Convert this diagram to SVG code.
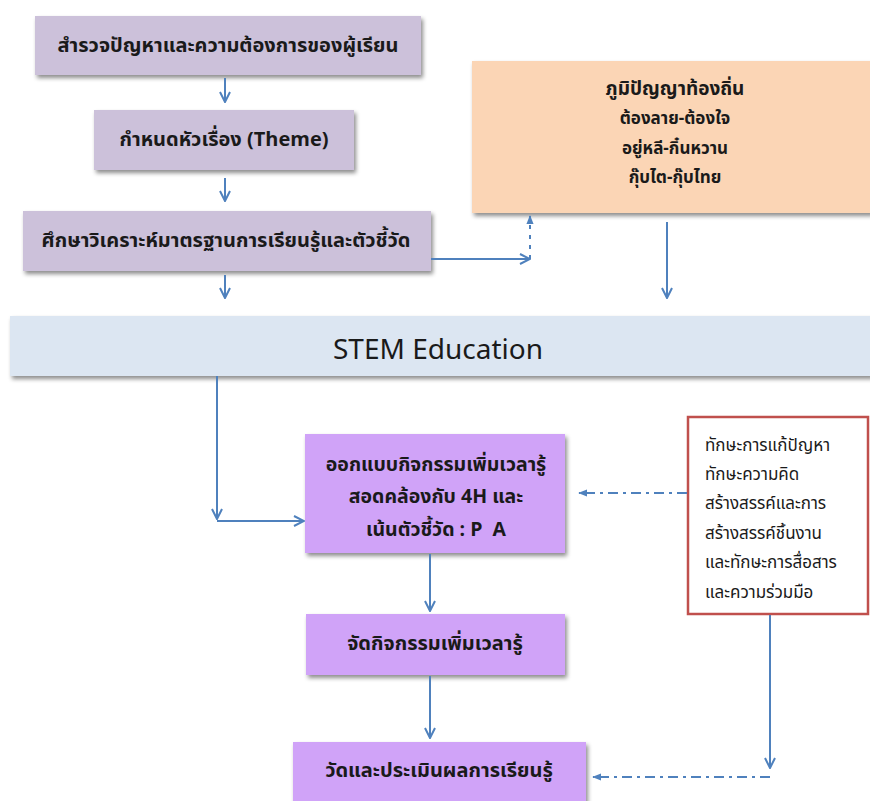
<svg xmlns="http://www.w3.org/2000/svg" width="870" height="801" viewBox="0 0 870 801">
<defs>
<filter id="sh" x="-5%" y="-10%" width="115%" height="130%">
<feGaussianBlur in="SourceAlpha" stdDeviation="2"/>
<feOffset dx="2" dy="3" result="b"/>
<feFlood flood-color="#000" flood-opacity="0.45"/>
<feComposite in2="b" operator="in"/>
<feMerge><feMergeNode/><feMergeNode in="SourceGraphic"/></feMerge>
</filter>
<marker id="open" viewBox="0 0 12 12" refX="11" refY="6" markerWidth="12" markerHeight="12" markerUnits="userSpaceOnUse" orient="auto">
<path d="M1,1 L11,6 L1,11" fill="none" stroke="#4f81bd" stroke-width="2"/>
</marker>
<marker id="tri" viewBox="0 0 10 10" refX="9" refY="5" markerWidth="9" markerHeight="9" markerUnits="userSpaceOnUse" orient="auto">
<path d="M0,1 L10,5 L0,9 Z" fill="#4f81bd"/>
</marker>
<style>
.t{font-family:"Noto Sans Thai","Tahoma","DejaVu Sans","Liberation Sans",sans-serif;fill:#1a1a1a;text-anchor:middle}
.b{font-weight:bold;font-size:20px}
.m{font-size:17px;font-weight:bold}
.r{font-size:19.5px;font-weight:bold}
.s{font-size:17px;text-anchor:start}
.c{fill:none;stroke:#4f81bd;stroke-width:2}
.d{fill:none;stroke:#4f81bd;stroke-width:2;stroke-dasharray:10 5 3 5}
.g{fill:#ccc1da}
.p{fill:#d0a3f8}
</style>
</defs>
<rect width="870" height="801" fill="#ffffff"/>
<g id="n1"><rect class="g" x="35" y="16" width="386" height="59" filter="url(#sh)"/><text class="t b" x="228" y="52">สำรวจปัญหาและความต้องการของผู้เรียน</text></g>
<g id="n2"><rect class="g" x="94" y="110" width="260" height="60" filter="url(#sh)"/><text class="t b" x="224" y="146">กำหนดหัวเรื่อง (Theme)</text></g>
<g id="n3"><rect class="g" x="23" y="211" width="408" height="60" filter="url(#sh)"/><text class="t b" x="226" y="247">ศึกษาวิเคราะห์มาตรฐานการเรียนรู้และตัวชี้วัด</text></g>
<g id="n4"><rect x="472" y="61" width="400" height="152" fill="#fbd5b5" filter="url(#sh)"/>
<text class="t b" x="675" y="95" style="font-size:19px">ภูมิปัญญาท้องถิ่น</text>
<text class="t m" x="675" y="124">ต้องลาย-ต้องใจ</text>
<text class="t m" x="675" y="154">อยู่หลี-กิ๋นหวาน</text>
<text class="t m" x="675" y="183">กุ๊บไต-กุ๊บไทย</text></g>
<g id="n5"><rect x="10" y="316" width="862" height="60" fill="#dce6f2" filter="url(#sh)"/><text class="t" x="438" y="359" style="font-size:28px">STEM Education</text></g>
<g id="n6"><rect class="p" x="305" y="434" width="260" height="119" filter="url(#sh)"/>
<text class="t r" x="436" y="471">ออกแบบกิจกรรมเพิ่มเวลารู้</text>
<text class="t r" x="436" y="503">สอดคล้องกับ 4H และ</text>
<text class="t r" x="436" y="536" style="white-space:pre">เน้นตัวชี้วัด : P  A</text></g>
<g id="n7"><rect class="p" x="306" y="614" width="259" height="61" filter="url(#sh)"/><text class="t b" x="435" y="650">จัดกิจกรรมเพิ่มเวลารู้</text></g>
<g id="n8"><rect class="p" x="293" y="742" width="293" height="70" filter="url(#sh)"/><text class="t b" x="439" y="777">วัดและประเมินผลการเรียนรู้</text></g>
<g id="n9"><rect x="688" y="417" width="180" height="197" fill="#ffffff" stroke="#c0504d" stroke-width="2.5"/>
<text class="t s" x="705" y="451">ทักษะการแก้ปัญหา</text>
<text class="t s" x="705" y="480">ทักษะความคิด</text>
<text class="t s" x="705" y="509">สร้างสรรค์และการ</text>
<text class="t s" x="705" y="539">สร้างสรรค์ชิ้นงาน</text>
<text class="t s" x="705" y="568">และทักษะการสื่อสาร</text>
<text class="t s" x="705" y="598">และความร่วมมือ</text></g>
<g id="connectors">
<path class="c" d="M225,78 V102" marker-end="url(#open)"/>
<path class="c" d="M225,178 V201" marker-end="url(#open)"/>
<path class="c" d="M225,275 V298" marker-end="url(#open)"/>
<path class="c" d="M431,259 H530" marker-end="url(#open)"/>
<path class="d" d="M530,259 V216" marker-end="url(#tri)" style="stroke-dasharray:4 6 4 6"/>
<path class="c" d="M667,222 V298" marker-end="url(#open)"/>
<path class="c" d="M217,376 V519" marker-end="url(#open)"/>
<path class="c" d="M217,521 H304" marker-end="url(#open)"/>
<path class="d" d="M687,493 H579" marker-end="url(#tri)"/>
<path class="c" d="M430,554 V611" marker-end="url(#open)"/>
<path class="c" d="M430,676 V738" marker-end="url(#open)"/>
<path class="c" d="M770,615 V768" marker-end="url(#open)"/>
<path class="d" d="M770,777 H593" marker-end="url(#tri)"/>
</g>
</svg>
